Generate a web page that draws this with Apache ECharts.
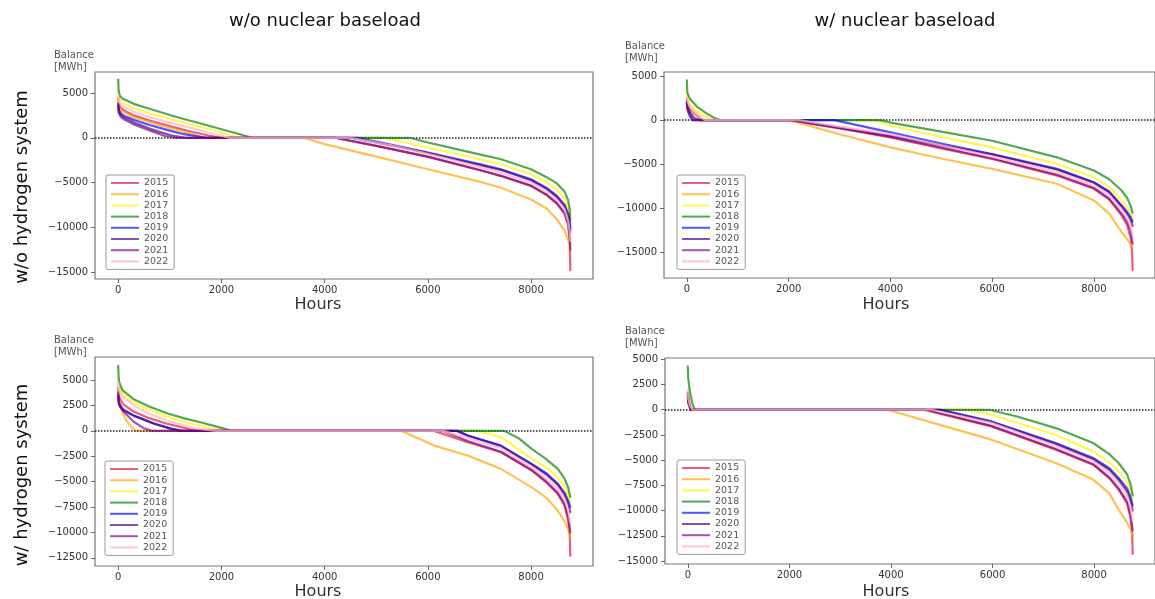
<!DOCTYPE html>
<html>
<head>
<meta charset="utf-8">
<script src="https://cdn.jsdelivr.net/npm/echarts@6/dist/echarts.min.js"></script>
<style>
  html, body { margin: 0; padding: 0; background: #fff; }
  #chart { width: 1155px; height: 599px; }
</style>
</head>
<body>
<div id="chart"></div>
<script>
// years and line colours (crimson, orange, yellow, green, blue, indigo, purple, pink)
var years = ["2015", "2016", "2017", "2018", "2019", "2020", "2021", "2022"];
var colors = [
   "rgba(220,20,60,0.68)",
   "rgba(255,165,0,0.68)",
   "rgba(255,245,0,0.68)",
   "rgba(0,128,0,0.68)",
   "rgba(0,0,255,0.68)",
   "rgba(75,0,130,0.68)",
   "rgba(128,0,128,0.68)",
   "rgba(255,182,198,0.75)",
];

var hourTicks = [0, 2000, 4000, 6000, 8000];
var balTicks5k = [-15000, -10000, -5000, 0, 5000];
var balTicksLow = [-12500, -10000, -7500, -5000, -2500, 0, 2500, 5000];
var balTicksHigh = [-15000, -12500, -10000, -7500, -5000, -2500, 0, 2500, 5000];

// sorted hourly balance [hour, MWh], one list per year (2015..2022)
// w/o nuclear baseload, w/o hydrogen system
var noNucNoH2 = [
   [[0,4500],[10,3900],[40,3400],[100,3100],[300,2500],[620,1900],[1000,1300],[1400,700],[1750,250],[2000,0],[4200,0],[5000,-900],[6000,-2130],[7000,-3600],[7417,-4270],[8000,-5390],[8300,-6400],[8500,-7350],[8650,-8500],[8720,-9800],[8750,-11800],[8760,-14800]],
   [[0,4200],[10,3600],[40,3100],[100,2900],[300,2300],[620,1700],[1000,1100],[1400,450],[1700,0],[3590,0],[4000,-710],[5000,-2100],[6000,-3520],[7000,-4900],[7417,-5580],[8000,-6890],[8300,-7900],[8500,-9100],[8650,-10400],[8720,-11400],[8750,-12000],[8760,-12400]],
   [[0,5000],[10,4500],[40,4200],[100,3900],[300,3300],[620,2700],[1000,2100],[1270,1700],[1600,1200],[1915,700],[2150,300],[2350,0],[5150,0],[6000,-1090],[7000,-2400],[7417,-2960],[8000,-4080],[8300,-5000],[8500,-5800],[8650,-6800],[8720,-7800],[8750,-8800],[8760,-9700]],
   [[0,6500],[8,5300],[30,4700],[80,4400],[300,3790],[620,3220],[1000,2550],[1270,2100],[1600,1600],[1915,1090],[2300,480],[2600,0],[5650,0],[6000,-530],[7000,-1850],[7417,-2400],[8000,-3520],[8300,-4400],[8500,-5100],[8650,-6000],[8720,-7000],[8750,-8100],[8760,-9200]],
   [[0,3800],[10,3200],[40,2800],[100,2500],[300,2000],[620,1400],[1000,800],[1270,400],[1700,0],[4640,0],[5300,-800],[6000,-1650],[7000,-2950],[7417,-3520],[8000,-4640],[8300,-5600],[8500,-6500],[8650,-7500],[8720,-8500],[8750,-9400],[8760,-10200]],
   [[0,3600],[10,3000],[40,2600],[100,2300],[300,1700],[620,1000],[1000,300],[1300,0],[4500,0],[5300,-850],[6000,-1700],[7000,-3050],[7417,-3600],[8000,-4750],[8300,-5700],[8500,-6600],[8650,-7700],[8720,-8800],[8750,-9700],[8760,-10600]],
   [[0,3300],[10,2800],[40,2400],[100,2100],[300,1500],[620,800],[900,200],[1100,0],[4200,0],[5000,-900],[6000,-2100],[7000,-3600],[7417,-4250],[8000,-5350],[8300,-6350],[8500,-7300],[8650,-8400],[8720,-9600],[8750,-11000],[8760,-12500]],
   [[0,4800],[10,4200],[40,3800],[100,3500],[300,2900],[620,2300],[1000,1700],[1270,1300],[1800,500],[2150,0],[4500,0],[5300,-850],[6000,-1800],[7000,-3250],[7417,-3900],[8000,-5020],[8300,-6000],[8500,-6950],[8650,-8000],[8720,-9300],[8750,-10500],[8760,-11500]],
];

// w/ nuclear baseload, w/o hydrogen system
var nucNoH2 = [
   [[0,2500],[5,2000],[15,1800],[60,1300],[120,900],[200,500],[300,0],[2000,0],[3000,-950],[4000,-1960],[5000,-3200],[6000,-4400],[7273,-6290],[8000,-7790],[8300,-9000],[8543,-10800],[8650,-11900],[8720,-13300],[8750,-15000],[8760,-17000]],
   [[0,2400],[5,1900],[15,1700],[60,1200],[200,400],[300,0],[2000,0],[3000,-1600],[4000,-3090],[5000,-4350],[6000,-5530],[7273,-7220],[8000,-9110],[8300,-10600],[8543,-12690],[8650,-13500],[8720,-14100],[8760,-14500]],
   [[0,3000],[5,2500],[15,2300],[60,1800],[200,1000],[400,300],[500,0],[3700,0],[4000,-640],[5000,-1900],[6000,-3090],[7273,-4970],[8000,-6480],[8300,-7600],[8543,-9110],[8650,-9900],[8720,-10500],[8760,-11000]],
   [[0,4500],[5,3400],[15,3000],[60,2400],[200,1500],[400,700],[550,200],[660,0],[3800,0],[4000,-280],[5000,-1300],[6000,-2340],[7273,-4220],[8000,-5720],[8300,-6700],[8543,-7980],[8650,-8800],[8720,-9700],[8760,-10500]],
   [[0,2200],[5,1700],[15,1500],[60,900],[150,200],[250,0],[2900,0],[4000,-1400],[5000,-2650],[6000,-3840],[7273,-5530],[8000,-7040],[8300,-8100],[8543,-9670],[8650,-10400],[8720,-11000],[8760,-11500]],
   [[0,2000],[5,1500],[15,1200],[60,600],[120,0],[2100,0],[3000,-850],[4000,-1780],[5000,-2850],[6000,-3900],[7273,-5600],[8000,-7100],[8300,-8200],[8543,-9800],[8650,-10600],[8720,-11300],[8760,-12000]],
   [[0,1900],[5,1400],[15,1100],[60,400],[110,0],[2050,0],[3000,-900],[4000,-1900],[5000,-3100],[6000,-4350],[7273,-6200],[8000,-7700],[8300,-8900],[8543,-10600],[8650,-11500],[8720,-12600],[8760,-14000]],
   [[0,2600],[5,2200],[15,2000],[60,1500],[200,700],[350,0],[2200,0],[3000,-750],[4000,-1600],[5000,-2850],[6000,-4140],[7273,-5900],[8000,-7400],[8300,-8500],[8543,-10200],[8650,-11000],[8720,-12000],[8760,-13000]],
];

// w/o nuclear baseload, w/ hydrogen system
var noNucH2 = [
   [[0,4200],[10,3600],[30,3200],[100,2600],[300,1900],[600,1250],[945,700],[1400,150],[1700,0],[6120,0],[6770,-1120],[7417,-2110],[8013,-3910],[8300,-5100],[8518,-6210],[8650,-7400],[8720,-8800],[8750,-10300],[8760,-12300]],
   [[0,4000],[10,3200],[20,2800],[80,1800],[150,1100],[200,700],[280,250],[350,0],[5480,0],[6123,-1450],[6770,-2430],[7417,-3740],[8013,-5560],[8300,-6600],[8518,-7850],[8650,-8900],[8720,-9700],[8760,-10500]],
   [[0,5000],[10,4500],[30,4100],[100,3600],[300,2800],[600,2100],[945,1400],[1300,850],[1590,500],[1850,200],[2050,0],[6965,0],[7417,-630],[8013,-2760],[8300,-3600],[8518,-4560],[8650,-5500],[8720,-6300],[8760,-7000]],
   [[0,6400],[8,5200],[20,4800],[80,4000],[300,3120],[600,2400],[945,1740],[1300,1200],[1590,850],[2000,300],[2210,0],[7480,0],[7750,-700],[8013,-1770],[8300,-2800],[8518,-3740],[8650,-4700],[8720,-5600],[8760,-6500]],
   [[0,3300],[10,2700],[30,2400],[100,2000],[300,1500],[700,700],[1000,250],[1250,0],[6580,0],[6770,-460],[7417,-1450],[8013,-3250],[8300,-4200],[8518,-5220],[8650,-6100],[8720,-6900],[8760,-7500]],
   [[0,3800],[10,3000],[30,2600],[100,2100],[300,1500],[700,700],[1000,250],[1200,0],[6550,0],[6770,-450],[7417,-1500],[8013,-3300],[8300,-4300],[8518,-5300],[8650,-6300],[8720,-7200],[8760,-8000]],
   [[0,3500],[10,2800],[30,2500],[100,1900],[300,900],[500,250],[650,0],[6300,0],[6770,-1000],[7417,-2050],[8013,-3850],[8300,-5000],[8518,-6100],[8650,-7200],[8720,-8500],[8760,-10000]],
   [[0,4800],[10,4200],[30,3800],[100,3300],[300,2500],[600,1700],[945,1000],[1500,250],[1900,0],[6300,0],[6770,-700],[7417,-1700],[8013,-3580],[8300,-4650],[8518,-5700],[8650,-6700],[8720,-7800],[8760,-9000]],
];

// w/ nuclear baseload, w/ hydrogen system
var nucH2 = [
   [[0,1200],[10,600],[40,200],[70,0],[4640,0],[5977,-1650],[7246,-3960],[7982,-5450],[8300,-6800],[8483,-7920],[8650,-9300],[8720,-10800],[8750,-12300],[8760,-14300]],
   [[0,1500],[10,800],[40,300],[80,0],[3930,0],[5000,-1550],[5977,-2970],[7246,-5280],[7982,-6930],[8300,-8300],[8483,-9900],[8650,-11200],[8720,-11900],[8760,-12500]],
   [[0,2000],[10,1300],[40,600],[100,0],[5490,0],[5977,-500],[7246,-2480],[7982,-4130],[8300,-5200],[8483,-6110],[8650,-7200],[8720,-8100],[8760,-9000]],
   [[0,4300],[5,3300],[10,3000],[40,1800],[90,600],[140,0],[5940,0],[6500,-700],[7246,-1820],[7982,-3300],[8300,-4400],[8483,-5280],[8650,-6400],[8720,-7400],[8760,-8500]],
   [[0,1700],[10,1000],[40,400],[80,0],[4980,0],[5977,-1160],[7246,-3300],[7982,-4790],[8300,-5800],[8483,-6770],[8650,-7800],[8720,-8700],[8760,-9500]],
   [[0,1600],[10,900],[40,300],[70,0],[4950,0],[5977,-1200],[7246,-3400],[7982,-4900],[8300,-5950],[8483,-6950],[8650,-8100],[8720,-9100],[8760,-10000]],
   [[0,1400],[10,700],[40,200],[60,0],[4700,0],[5977,-1600],[7246,-3900],[7982,-5400],[8300,-6700],[8483,-7800],[8650,-9100],[8720,-10400],[8760,-12000]],
   [[0,1800],[10,1100],[40,400],[90,0],[4800,0],[5977,-1300],[7246,-3630],[7982,-5120],[8300,-6250],[8483,-7300],[8650,-8500],[8720,-9700],[8760,-11000]],
];

function duration_echart(){
   var font = "DejaVu Sans";
   var panels = [
      { data: noNucNoH2, grid: {left: 95, top: 72, width: 498, height: 207}, y: [-15780, 7350], ticks: balTicks5k, legend: [106, 175], unit: [54, 49] },
      { data: nucNoH2, grid: {left: 664, top: 72, width: 495, height: 206}, y: [-17900, 5450], ticks: balTicks5k, legend: [677, 175], unit: [625, 40] },
      { data: noNucH2, grid: {left: 95, top: 357, width: 498, height: 209}, y: [-13300, 7270], ticks: balTicksLow, legend: [105, 461], unit: [54, 334] },
      { data: nucH2, grid: {left: 665, top: 358, width: 494, height: 206}, y: [-15300, 5130], ticks: balTicksHigh, legend: [677, 460], unit: [625, 325] },
   ];

   var fmtY = (v) => String(v).replace("-", "\u2212");
   var fmtX = (v) => String(v);
   var grids = [], xAxes = [], yAxes = [], series = [], legends = [], graphics = [];

   panels.forEach((p, pi) => {
      grids.push(Object.assign({show: true, borderColor: "#777", borderWidth: 1.2, backgroundColor: "#fff"}, p.grid));
      xAxes.push({
         type: "value", gridIndex: pi, min: -450, max: 9200,
         axisLine: {show: false, onZero: false},
         axisTick: {show: true, length: 4, customValues: hourTicks, lineStyle: {color: "#666"}},
         axisLabel: {customValues: hourTicks, fontSize: 10, color: "#333", fontFamily: font, margin: 6, formatter: fmtX},
         splitLine: {show: false},
      });
      yAxes.push({
         type: "value", gridIndex: pi, min: p.y[0], max: p.y[1],
         axisLine: {show: false, onZero: false},
         axisTick: {show: true, length: 4, customValues: p.ticks, lineStyle: {color: "#666"}},
         axisLabel: {customValues: p.ticks, fontSize: 10, color: "#333", fontFamily: font, margin: 7, formatter: fmtY},
         splitLine: {show: false},
      });
      p.data.forEach((pts, idx) => {
         var s = {
            name: years[idx], type: "line", xAxisIndex: pi, yAxisIndex: pi,
            data: pts, symbol: "none", smooth: false,
            lineStyle: {color: colors[idx], width: 2.2, cap: "round", join: "round"},
            itemStyle: {color: colors[idx]},
            z: 2 + idx,
         };
         if (idx === p.data.length - 1) {
            s.markLine = {
               silent: true, symbol: ["none", "none"], label: {show: false},
               lineStyle: {color: "#222", type: "dotted", width: 1.5},
               data: [{yAxis: 0}],
            };
         }
         series.push(s);
      });
      legends.push({
         data: years, orient: "vertical", left: p.legend[0], top: p.legend[1],
         icon: "rect", padding: [3, 6, 3, 5], itemWidth: 28, itemHeight: 2, itemGap: 1.2,
         borderColor: "#999", borderWidth: 1, borderRadius: 2, backgroundColor: "#fff",
         textStyle: {fontSize: 9.5, lineHeight: 10, color: "#555", fontFamily: font},
         selectedMode: false,
      });
      graphics.push({
         type: "text", left: p.unit[0], top: p.unit[1],
         style: {text: "Balance\n[MWh]", font: "10px " + font, fill: "#555", lineHeight: 12.5},
      });
   });

   // column / row headers and axis titles
   var heads = [
      ["w/o nuclear baseload", 325, 21, 0],
      ["w/ nuclear baseload", 905, 21, 0],
      ["w/o hydrogen system", 22, 187, Math.PI / 2],
      ["w/ hydrogen system", 22, 475, Math.PI / 2],
   ];
   heads.forEach((h) => {
      graphics.push({
         type: "text", x: h[1], y: h[2], rotation: h[3],
         style: {text: h[0], font: "18px " + font, fill: "#111", align: "center", verticalAlign: "middle"},
      });
   });
   [[318, 305], [886, 305], [318, 592], [886, 592]].forEach((c) => {
      graphics.push({
         type: "text", x: c[0], y: c[1],
         style: {text: "Hours", font: "16px " + font, fill: "#333", align: "center", verticalAlign: "middle"},
      });
   });

   var option = {
      animation: false,
      backgroundColor: "#fff",
      grid: grids,
      xAxis: xAxes,
      yAxis: yAxes,
      legend: legends,
      series: series,
      graphic: graphics,
   };
   var myChart = echarts.init(document.querySelector("#chart"));
   myChart.setOption(option, true);
}
duration_echart();
</script>
</body>
</html>
